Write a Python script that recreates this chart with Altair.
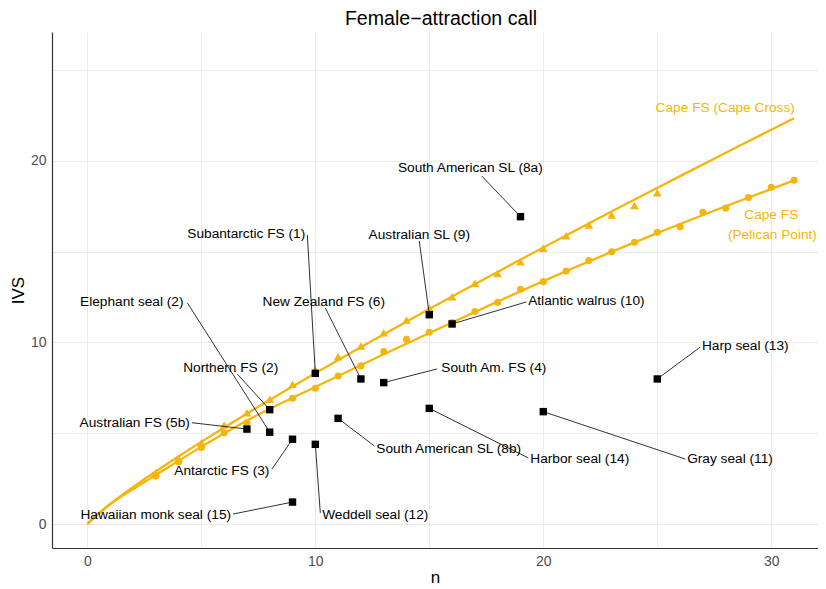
import altair as alt
import pandas as pd

FONT = "Liberation Sans, Arial, sans-serif"
YELLOW = "#F5B50A"

# Cape fur seal colonies (yellow points)
pp_n = list(range(3, 32))
pp_ivs = [2.64, 3.43, 4.22, 5.03, 5.58, 6.30, 6.93, 7.48, 8.15, 8.71, 9.50, 10.17,
          10.56, 11.10, 11.70, 12.21, 12.93, 13.35, 13.94, 14.51, 15.00, 15.52,
          16.07, 16.38, 17.17, 17.40, 17.98, 18.55, 18.93]
cc_n = list(range(3, 26))
cc_ivs = [2.83, 3.62, 4.48, 5.45, 6.13, 6.87, 7.70, 8.50, 9.22, 9.81, 10.54, 11.24,
          11.90, 12.52, 13.26, 13.80, 14.45, 15.19, 15.88, 16.47, 17.02, 17.54, 18.25]

# fitted curve of Pelican Point
pp_line_n = [0, 1, 2, 3, 5, 7, 10, 13, 16, 20, 25, 28, 31]
pp_line_ivs = [0.0, 1.08, 1.92, 2.70, 4.25, 5.70, 7.55, 9.35, 11.10, 13.38, 16.02,
               17.50, 18.93]

# Other species (black squares)
species = ["South American SL (8a)", "Subantarctic FS (1)", "Australian SL (9)",
           "Elephant seal (2)", "New Zealand FS (6)", "Atlantic walrus (10)",
           "Northern FS (2)", "South Am.  FS (4)", "Harp seal (13)",
           "Australian FS (5b)", "South American SL (8b)", "Harbor seal (14)",
           "Gray seal (11)", "Antarctic FS (3)", "Hawaiian monk seal (15)",
           "Weddell seal (12)"]
sp_n = [19, 10, 15, 8, 12, 16, 8, 13, 25, 7, 11, 15, 20, 9, 9, 10]
sp_ivs = [16.93, 8.30, 11.53, 5.06, 7.99, 11.02, 6.30, 7.79, 7.99, 5.23, 5.82,
          6.37, 6.19, 4.67, 1.21, 4.39]
# label positions (data units) and connector end points
lab_n = [16.80, 6.97, 14.56, 1.95, 10.37, 21.89, 6.29, 17.83, 28.86, 2.08, 15.85,
         21.60, 28.19, 5.90, 3.00, 12.63]
lab_ivs = [19.59, 15.95, 15.92, 12.25, 12.25, 12.29, 8.62, 8.60, 9.81, 5.56, 4.13,
           3.58, 3.56, 2.94, 0.50, 0.50]
seg_n = [17.30, 9.65, 14.56, 4.39, 10.44, 19.25, 6.58, 15.34, 26.89, 4.59, 12.59,
         19.34, 26.23, 8.10, 6.39, 10.22]
seg_ivs = [19.17, 15.92, 15.59, 12.18, 11.90, 12.23, 8.26, 8.54, 9.75, 5.58, 4.30,
           3.64, 3.58, 3.03, 0.55, 0.61]

site_names = ["Cape Cross", "Pelican Point"]
site_labels = ["Cape FS (Cape Cross)", "Cape FS", "(Pelican Point)"]
site_lab_n = [27.98, 30.0, 30.05]
site_lab_ivs = [22.92, 17.02, 15.92]

title_text = ["Female−attraction call"]

x_ticks = [0, 5, 10, 15, 20, 25, 30]
y_ticks = [0, 5, 10, 15, 20, 25]

yellow_df = pd.DataFrame({
    "n": pp_n + cc_n,
    "ivs": pp_ivs + cc_ivs,
    "site": ["Pelican Point"] * len(pp_n) + ["Cape Cross"] * len(cc_n),
})
pp_line_df = pd.DataFrame({"n": pp_line_n, "ivs": pp_line_ivs})
sp_df = pd.DataFrame({"species": species, "n": sp_n, "ivs": sp_ivs,
                      "ln": lab_n, "livs": lab_ivs, "sn": seg_n, "sivs": seg_ivs})
site_df = pd.DataFrame({"label": site_labels, "n": site_lab_n, "ivs": site_lab_ivs})
title_df = pd.DataFrame({"t": title_text})

xscale = alt.Scale(domain=[-1.55, 32.05], nice=False, zero=False)
yscale = alt.Scale(domain=[-1.32, 27.1], nice=False, zero=False)
xaxis = alt.Axis(values=x_ticks, labelExpr="datum.value % 10 === 0 ? datum.label : ''",
                 grid=True, gridColor="#EBEBEB", gridWidth=1, ticks=False,
                 domain=True, domainColor="#333333", domainWidth=1.2,
                 labelColor="#4D4D4D", labelFontSize=14, labelFont=FONT,
                 labelPadding=6, labelFlush=False, labelOverlap=False,
                 title="n", titleFont=FONT, titleFontSize=17, titleFontWeight="normal",
                 titleColor="black", titlePadding=1)
yaxis = alt.Axis(values=y_ticks, labelExpr="datum.value % 10 === 0 ? datum.label : ''",
                 grid=True, gridColor="#EBEBEB", gridWidth=1, ticks=False,
                 domain=True, domainColor="#333333", domainWidth=1.2,
                 labelColor="#4D4D4D", labelFontSize=14, labelFont=FONT,
                 labelPadding=6, labelFlush=False, labelOverlap=False,
                 title="IVS", titleFont=FONT, titleFontSize=17, titleFontWeight="normal",
                 titleColor="black", titlePadding=3)


def X(f):
    return alt.X(f"{f}:Q", scale=xscale, axis=xaxis)


def Y(f):
    return alt.Y(f"{f}:Q", scale=yscale, axis=yaxis)


base_y = alt.Chart(yellow_df)

fit_cc = base_y.transform_filter(alt.datum.site == "Cape Cross").transform_regression(
    "n", "ivs", method="pow", extent=[0, 31]
).mark_line(color=YELLOW, strokeWidth=2.3).encode(x=X("n"), y=Y("ivs"))

fit_pp = alt.Chart(pp_line_df).mark_line(
    color=YELLOW, strokeWidth=2.3, interpolate="monotone"
).encode(x=X("n"), y=Y("ivs"))

ypts = base_y.mark_point(filled=True, opacity=1, color=YELLOW).encode(
    x=X("n"), y=Y("ivs"),
    shape=alt.Shape("site:N", scale=alt.Scale(domain=site_names,
                                              range=["triangle-up", "circle"]),
                    legend=None),
    size=alt.Size("site:N", scale=alt.Scale(domain=site_names, range=[75, 50]),
                  legend=None),
)

base_s = alt.Chart(sp_df)
segs = base_s.mark_rule(color="#1a1a1a", strokeWidth=0.9).encode(
    x=X("n"), y=Y("ivs"), x2="sn:Q", y2="sivs:Q")
squares = base_s.mark_point(shape="square", filled=True, opacity=1, color="black",
                            size=55).encode(x=X("n"), y=Y("ivs"))
labels = base_s.mark_text(font=FONT, fontSize=13.7, color="black",
                          align="center", baseline="middle").encode(
    x=X("ln"), y=Y("livs"), text="species:N")

site_text = alt.Chart(site_df).mark_text(font=FONT, fontSize=13.7, color=YELLOW,
                                         align="center", baseline="middle").encode(
    x=X("n"), y=Y("ivs"), text="label:N")

title = alt.Chart(title_df).mark_text(font=FONT, fontSize=19.6, color="black",
                                      align="center", baseline="alphabetic").encode(
    x=alt.value(389), y=alt.value(-7), text="t:N")

chart = alt.layer(fit_cc, fit_pp, ypts, segs, squares, labels, site_text,
                  title).properties(
    width=766, height=516,
    autosize="none",
    padding={"left": 44, "top": 24, "right": 0, "bottom": 40},
).configure_view(stroke=None)

chart.save("out.html", embed_options={"renderer": "svg", "actions": False})
